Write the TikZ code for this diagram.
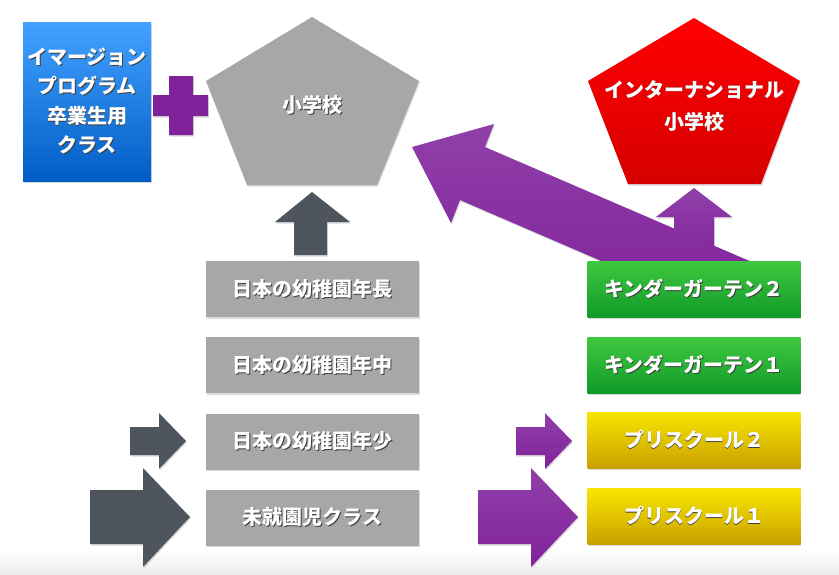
\documentclass[tikz,border=0pt]{standalone}
\usepackage{fontspec}
\setmainfont{Noto Sans CJK JP}
\usepackage{xcolor}
\usepackage{tikz}
\usetikzlibrary{positioning,shadows}

\definecolor{boxgray}{HTML}{A5A8A7}
\definecolor{arrowgray}{HTML}{4F555D}
\definecolor{plumA}{HTML}{9040AA}
\definecolor{plumB}{HTML}{80229A}
\definecolor{skyTop}{HTML}{42A2FF}
\definecolor{skyBot}{HTML}{005DC6}
\definecolor{redTop}{HTML}{FF0000}
\definecolor{redBot}{HTML}{D60000}
\definecolor{grnTop}{HTML}{40C840}
\definecolor{grnBot}{HTML}{109A28}
\definecolor{ylwTop}{HTML}{F8E600}
\definecolor{ylwBot}{HTML}{C8A000}

% white text with a dark offset copy behind it
\newcommand\shtxt[1]{\makebox[0pt][l]{\hspace{.8pt}\raisebox{-.8pt}{\textcolor{black!75}{#1}}}#1}

\tikzset{
  soft/.style={drop shadow={opacity=.3, shadow xshift=.8pt, shadow yshift=-1.5pt}},
  stage/.style={soft, minimum width=213pt, minimum height=56pt, inner sep=0pt,
    text=white, font=\bfseries\fontsize{20}{24}\selectfont},
  jpbox/.style={stage, fill=boxgray},
  kgbox/.style={stage, top color=grnTop, bottom color=grnBot},
  psbox/.style={stage, top color=ylwTop, bottom color=ylwBot},
  darkarrow/.style={soft, fill=arrowgray},
  plumarrow/.style={soft, top color=plumA, bottom color=plumB},
  caption/.style={text=white, align=center, font=\bfseries\fontsize{20}{32}\selectfont}
}

\begin{document}
\begin{tikzpicture}[x=1pt, y=-1pt]
\useasboundingbox (0,0) rectangle (839,574);
\shade[top color=white, bottom color=black!7] (0,548) rectangle (839,574);

% schools
\fill[boxgray, soft] (312,17) -- (419,81) -- (377,185) -- (247,185) -- (206,81) -- cycle;
\node[caption] (elem) at (312.5,105) {\shtxt{小学校}};

\shade[top color=redTop, bottom color=redBot, soft] (694,18) -- (800,81) -- (761,184) -- (628,184) -- (588,81) -- cycle;
\node[caption] (intl) at (694,106) {\shtxt{インターナショナル}\\\shtxt{小学校}};

\node[stage, minimum width=128pt, minimum height=159pt, top color=skyTop, bottom color=skyBot,
  align=center, font=\bfseries\fontsize{20}{29.5}\selectfont] (immersion) at (87,101.5)
  {\shtxt{イマージョン}\\\shtxt{プログラム}\\\shtxt{卒業生用}\\\shtxt{クラス}};

% plus sign
\fill[plumB, soft] (169,76) -- (193,76) -- (193,95) -- (208,95) -- (208,116) -- (193,116)
  -- (193,135) -- (169,135) -- (169,116) -- (153,116) -- (153,95) -- (169,95) -- cycle;

% upward arrows
\fill[darkarrow] (294,255) -- (294,222) -- (275,222) -- (312,192) -- (350,222) -- (327,222) -- (327,255) -- cycle;
\shade[plumarrow] (674,262) -- (674,217) -- (656,217) -- (694,188) -- (732,217) -- (714,217) -- (714,262) -- cycle;
\shade[plumarrow] (782,275) -- (485,147) -- (494,124) -- (412,147) -- (451,223) -- (460,200) -- (715,310) -- cycle;

% Japanese kindergarten
\node[jpbox] (nencho) at (312.5,289) {\shtxt{日本の幼稚園年長}};
\node[jpbox] (nenchu) at (312.5,365) {\shtxt{日本の幼稚園年中}};
\node[jpbox] (nensho) at (312.5,441.5) {\shtxt{日本の幼稚園年少}};
\node[jpbox] (mishu) at (312.5,517.5) {\shtxt{未就園児クラス}};

% international track
\node[kgbox] (kg2) at (694,289) {\shtxt{キンダーガーテン２}};
\node[kgbox] (kg1) at (694,365) {\shtxt{キンダーガーテン１}};
\node[psbox] (ps2) at (694,440) {\shtxt{プリスクール２}};
\node[psbox] (ps1) at (694,516.5) {\shtxt{プリスクール１}};

% entry arrows
\fill[darkarrow] (130,427) -- (159,427) -- (159,413) -- (186,441) -- (159,469) -- (159,455) -- (130,455) -- cycle;
\fill[darkarrow] (90,490) -- (143,490) -- (143,468) -- (190,517) -- (143,567) -- (143,544) -- (90,544) -- cycle;
\shade[plumarrow] (516,427) -- (545,427) -- (545,413) -- (572,441) -- (545,469) -- (545,455) -- (516,455) -- cycle;
\shade[plumarrow] (478,490) -- (531,490) -- (531,468) -- (578,517) -- (531,567) -- (531,544) -- (478,544) -- cycle;

\end{tikzpicture}
\end{document}
